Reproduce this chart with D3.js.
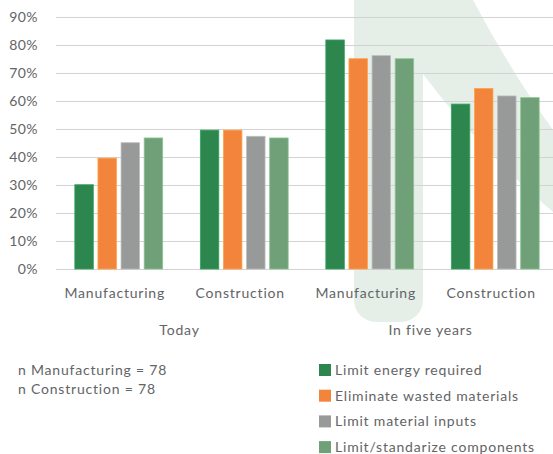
<!DOCTYPE html>
<html>
<head>
<meta charset="utf-8">
<script src="https://cdn.jsdelivr.net/npm/d3@7"></script>
<style>
  body { margin: 0; background: #fff; }
  text { font-family: Lato, "Open Sans", sans-serif; fill: #636466; letter-spacing: 0.8px; }
</style>
</head>
<body>
<div id="chart"></div>
<script>
// chart data
var periods = ["Today", "In five years"];
var sectors = ["Manufacturing", "Construction"];
var seriesNames = ["Limit energy required", "Eliminate wasted materials", "Limit material inputs", "Limit/standarize components"];
var seriesColors = ["#2c864d", "#f2843b", "#989a9a", "#70a077"];
// values per series, in order: Today-Manufacturing, Today-Construction, Five-Manufacturing, Five-Construction
var energyVals = [0.301, 0.496, 0.818, 0.589];
var wasteVals = [0.396, 0.496, 0.751, 0.645];
var inputVals = [0.451, 0.474, 0.762, 0.618];
var componentVals = [0.468, 0.468, 0.751, 0.612];
var yTicks = [0, 0.1, 0.2, 0.3, 0.4, 0.5, 0.6, 0.7, 0.8, 0.9];
var notes = ["n Manufacturing = 78", "n Construction = 78"];

var W = 553, H = 454;
var margin = {top: 17, left: 56, right: -5, bottom: 185};

var svg = d3.select("#chart").append("svg")
    .attr("width", W)
    .attr("height", H);

// faint background decoration
var deco = svg.append("g").attr("fill", "#e5efe8");
deco.append("rect")
    .attr("x", 354).attr("y", -30)
    .attr("width", 69).attr("height", 352)
    .attr("rx", 22).attr("ry", 22);
deco.append("path")
    .attr("d", "M354,0 L473,0 Q510,70 553,130 L553,212 Q480,150 423,74 L354,74 Z");

var groups = [];
periods.forEach(function (p) {
    sectors.forEach(function (s) { groups.push({period: p, sector: s, key: p + "|" + s}); });
});
var allVals = [energyVals, wasteVals, inputVals, componentVals];

var x0 = d3.scaleBand()
    .domain(groups.map(function (d) { return d.key; }))
    .range([margin.left, W - margin.right])
    .paddingInner(0.3)
    .paddingOuter(0.15);

var x1 = d3.scaleBand()
    .domain(seriesNames)
    .range([0, x0.bandwidth()])
    .paddingInner(0.2);

var y = d3.scaleLinear()
    .domain([0, 0.9])
    .range([269, margin.top]);

// gridlines
svg.append("g")
    .selectAll("line")
    .data(yTicks)
    .enter()
    .append("line")
    .attr("x1", margin.left)
    .attr("x2", W)
    .attr("y1", function (d) { return Math.round(y(d)) + 0.5; })
    .attr("y2", function (d) { return Math.round(y(d)) + 0.5; })
    .attr("stroke", "#d3d3d3")
    .attr("stroke-width", 1.2);

// y axis labels
var yAxis = d3.axisLeft(y).tickValues(yTicks).tickFormat(d3.format(".0%")).tickSize(0).tickPadding(0);
var yg = svg.append("g")
    .attr("transform", "translate(38,0)")
    .call(yAxis);
yg.select(".domain").remove();
yg.selectAll("text")
    .style("font-size", "14px")
    .style("font-family", "Lato, sans-serif")
    .style("letter-spacing", "0.4px")
    .attr("fill", "#636466");

// bars
var groupG = svg.selectAll(".grp")
    .data(groups)
    .enter()
    .append("g")
    .attr("class", "grp")
    .attr("transform", function (d) { return "translate(" + x0(d.key) + ",0)"; });

groupG.selectAll("rect")
    .data(function (d, i) {
        return seriesNames.map(function (s, j) { return {name: s, value: allVals[j][i], color: seriesColors[j]}; });
    })
    .enter()
    .append("rect")
    .attr("x", function (d) { return x1(d.name); })
    .attr("y", function (d) { return y(d.value); })
    .attr("width", x1.bandwidth())
    .attr("height", function (d) { return y(0) - y(d.value); })
    .attr("fill", function (d) { return d.color; })
    .attr("stroke", function (d) { return d3.color(d.color).brighter(0.6); })
    .attr("stroke-width", 0.8);

// sector labels (sit a little left of the bar groups, as in the original)
svg.append("g")
    .selectAll("text")
    .data(groups)
    .enter()
    .append("text")
    .attr("x", function (d) { return x0(d.key) + x0.bandwidth() / 2 - 4; })
    .attr("y", 298)
    .attr("text-anchor", "middle")
    .style("font-size", "14px")
    .text(function (d) { return d.sector; });

// period labels
svg.append("g")
    .selectAll("text")
    .data(periods)
    .enter()
    .append("text")
    .attr("x", function (p) {
        var keys = groups.filter(function (g) { return g.period === p; });
        var a = x0(keys[0].key), b = x0(keys[keys.length - 1].key) + x0.bandwidth();
        return (a + b) / 2 - 2;
    })
    .attr("y", 335)
    .attr("text-anchor", "middle")
    .style("font-size", "14px")
    .text(function (d) { return d; });

// sample size notes
svg.append("g")
    .selectAll("text")
    .data(notes)
    .enter()
    .append("text")
    .attr("x", 18)
    .attr("y", function (d, i) { return 375 + i * 19; })
    .style("font-size", "14px")
    .text(function (d) { return d; });

// legend
var legend = svg.append("g")
    .selectAll("g")
    .data(seriesNames)
    .enter()
    .append("g")
    .attr("transform", function (d, i) { return "translate(319," + (370 + i * 25.7) + ")"; });

legend.append("rect")
    .attr("x", 0).attr("y", -6)
    .attr("width", 12).attr("height", 12)
    .attr("fill", function (d, i) { return seriesColors[i]; });

legend.append("text")
    .attr("x", 16)
    .attr("y", 5)
    .style("font-size", "14px")
    .text(function (d) { return d; });
</script>
</body>
</html>
